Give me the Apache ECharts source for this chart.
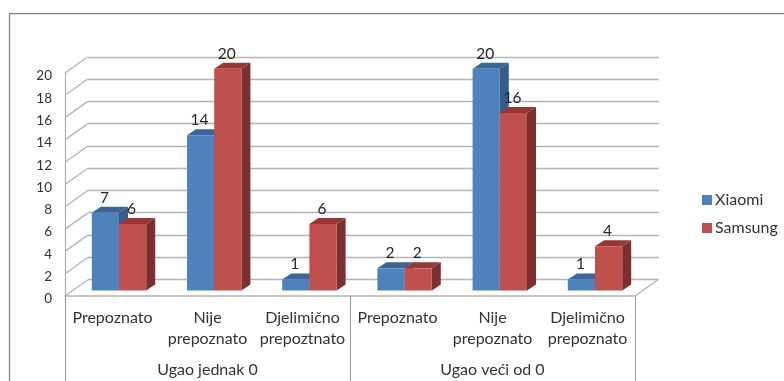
<!DOCTYPE html>
<html>
<head>
<meta charset="utf-8">
<style>html,body{margin:0;padding:0;background:#fff}#c{width:784px;height:381px}</style>
<script src="https://cdn.jsdelivr.net/npm/echarts@6/dist/echarts.min.js"></script>
</head>
<body>
<div id="c"></div>
<script>
const groups = ['Ugao jednak 0', 'Ugao veći od 0'];
const categories = ['Prepoznato', 'Nije\nprepoznato', 'Djelimično\nprepoztnato', 'Prepoznato', 'Nije\nprepoznato', 'Djelimično\nprepoznato'];
const xiaomi = [7, 14, 1, 2, 20, 1];
const samsung = [6, 20, 6, 2, 16, 4];
const yTicks = [0, 2, 4, 6, 8, 10, 12, 14, 16, 18, 20];

const FONT = 'Lato, "Noto Sans", sans-serif';
const GRID = '#b4b4b4';
const barDepthX = 9, barDepthY = -6;
const wallDepthX = 22.5, wallDepthY = -16;
const barShare = 27.2 / 95.2;

function barRender(side, front, sideCol, topCol, values) {
  return function (params, api) {
    const i = api.value(0), v = api.value(1);
    const base = api.coord([i, 0]);
    const top = api.coord([i, v]);
    const w = api.size([1, 0])[0] * barShare;
    const x0 = side < 0 ? base[0] - w : base[0];
    const x1 = x0 + w;
    const dx = barDepthX, dy = barDepthY;
    return {
      type: 'group',
      children: [
        { type: 'polygon', shape: { points: [[x1, top[1]], [x1 + dx, top[1] + dy], [x1 + dx, base[1] + dy], [x1, base[1]]] }, style: { fill: sideCol } },
        { type: 'polygon', shape: { points: [[x0, top[1]], [x0 + dx, top[1] + dy], [x1 + dx, top[1] + dy], [x1, top[1]]] }, style: { fill: topCol } },
        { type: 'rect', shape: { x: x0, y: top[1], width: w, height: base[1] - top[1] }, style: { fill: front } },
        { type: 'text', z2: 50, style: { text: String(v), x: (x0 + x1) / 2 - 1, y: top[1] - 15, align: 'center', verticalAlign: 'middle', font: '15.5px ' + FONT, fill: '#262626' } }
      ]
    };
  };
}

function wallRender(params, api) {
  const v = api.value(1);
  const p = api.coord([0, v]);
  const cs = params.coordSys;
  const style = { stroke: GRID, lineWidth: 1.3, fill: 'none' };
  const kids = [{ type: 'line', shape: { x1: cs.x, y1: p[1], x2: cs.x + wallDepthX, y2: p[1] + wallDepthY }, style }];
  if (v === 0) {
    kids.push({ type: 'line', shape: { x1: cs.x + cs.width, y1: p[1], x2: cs.x + cs.width + wallDepthX, y2: p[1] + wallDepthY }, style });
  }
  return { type: 'group', children: kids };
}

const chart = echarts.init(document.getElementById('c'));
chart.setOption({
  animation: false,
  backgroundColor: '#fff',
  graphic: [{ type: 'polyline', silent: true, shape: { points: [[9.5, 381], [9.5, 13.7], [784, 13.7]] }, style: { stroke: '#808080', lineWidth: 1.2, fill: 'none' } }],
  legend: {
    show: true, orient: 'vertical', left: 697, top: 187, itemWidth: 10, itemHeight: 10, itemGap: 12, icon: 'rect',
    textStyle: { fontFamily: FONT, fontSize: 16, color: '#333', padding: [0, 0, 0, -2] },
    data: ['Xiaomi', 'Samsung']
  },
  grid: [
    { left: 87.5, top: 57, width: 571.5, height: 222.3 },
    { left: 65, top: 73, width: 570, height: 223 },
    { left: 71.4, top: 68.7, width: 571.2, height: 221.8 }
  ],
  xAxis: [
    { gridIndex: 0, type: 'category', data: categories, show: false },
    { gridIndex: 1, type: 'category', data: groups, position: 'bottom',
      axisLine: { show: true, lineStyle: { color: GRID, width: 1.5 } },
      axisTick: { show: true, length: 85, lineStyle: { color: '#999', width: 1 } },
      axisLabel: { interval: 0, margin: 66, fontFamily: FONT, fontSize: 16, color: '#333' } },
    { gridIndex: 1, type: 'category', data: categories, position: 'bottom',
      axisLine: { show: false }, axisTick: { show: false },
      axisLabel: { interval: 0, margin: 11, fontFamily: FONT, fontSize: 16, lineHeight: 21, color: '#333' } },
    { gridIndex: 2, type: 'category', data: categories, show: false }
  ],
  yAxis: [
    { gridIndex: 0, type: 'value', min: 0, max: 20, interval: 2,
      axisLine: { show: false }, axisTick: { show: false }, axisLabel: { show: false },
      splitLine: { show: true, lineStyle: { color: GRID, width: 1.4 } } },
    { gridIndex: 1, type: 'value', min: 0, max: 20, interval: 2, splitLine: { show: false },
      axisLine: { show: true, lineStyle: { color: GRID, width: 1.3 } }, axisTick: { show: false },
      axisLabel: { margin: 13, fontFamily: FONT, fontSize: 13.5, color: '#333', verticalAlign: 'top', lineHeight: 6 } },
    { gridIndex: 2, type: 'value', min: 0, max: 20, interval: 2, show: false }
  ],
  series: [
    { type: 'custom', name: 'walls', xAxisIndex: 1, yAxisIndex: 1, renderItem: wallRender, silent: true, clip: false,
      data: yTicks.map(t => [0, t]), encode: { x: 0, y: 1 } },
    { type: 'custom', name: 'Xiaomi', xAxisIndex: 3, yAxisIndex: 2, itemStyle: { color: '#4F81BD' }, clip: false,
      renderItem: barRender(-1, '#4F81BD', '#385D8A', '#3D6595'),
      data: xiaomi.map((v, i) => [i, v]), encode: { x: 0, y: 1 } },
    { type: 'custom', name: 'Samsung', xAxisIndex: 3, yAxisIndex: 2, itemStyle: { color: '#C0504D' }, clip: false,
      renderItem: barRender(1, '#C0504D', '#7C2F2E', '#953735'),
      data: samsung.map((v, i) => [i, v]), encode: { x: 0, y: 1 } }
  ]
});
</script>
</body>
</html>
